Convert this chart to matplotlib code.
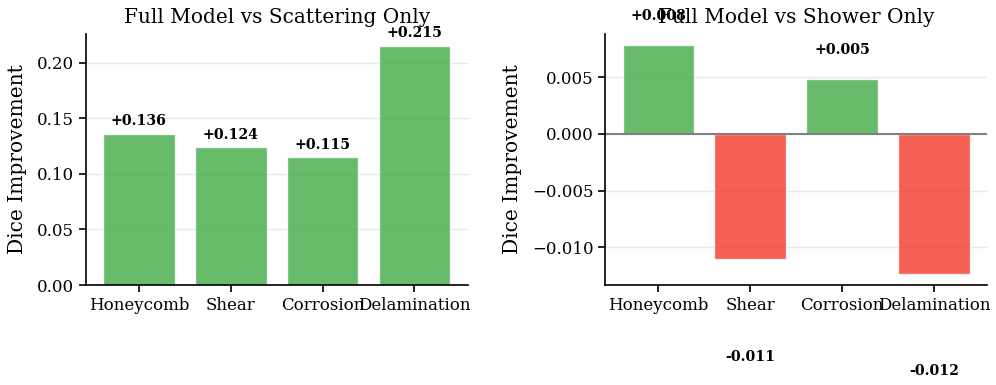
import matplotlib
matplotlib.use("Agg")
import matplotlib.pyplot as plt

categories = ["Honeycomb", "Shear", "Corrosion", "Delamination"]
vs_scattering = [0.136, 0.124, 0.115, 0.215]
vs_shower = [0.0078, -0.0110, 0.0048, -0.0123]
titles = ["Full Model vs Scattering Only", "Full Model vs Shower Only"]
ylabel = "Dice Improvement"

plt.rcParams['font.family'] = ['DejaVu Serif']

fig = plt.figure(figsize=(9.96, 3.85), dpi=100)
ax1 = fig.add_axes([0.086, 0.2597, 0.3835, 0.652])
ax2 = fig.add_axes([0.6077, 0.2597, 0.3835, 0.652])

green = "#4CAF50"
red = "#F44336"

def style(ax):
    for s in ["top", "right"]:
        ax.spines[s].set_visible(False)
    for s in ["left", "bottom"]:
        ax.spines[s].set_linewidth(1.2)
    ax.yaxis.grid(True, color="#dddddd", linewidth=1, alpha=0.7)
    ax.set_axisbelow(True)
    ax.tick_params(axis="both", labelsize=12, length=5, width=1.2)
    ax.set_ylabel(ylabel, fontsize=14.5, labelpad=7)

# left
x = range(len(categories))
ax1.bar(x, vs_scattering, color=green, alpha=0.85, width=0.78, edgecolor="white", linewidth=1)
for i, v in enumerate(vs_scattering):
    ax1.text(i, v + 0.005, f"+{v:.3f}", ha="center", va="bottom", fontsize=10.2, fontweight="bold")
ax1.set_xticks(list(x))
ax1.set_xticklabels(categories)
ax1.set_title(titles[0], fontsize=14.5, pad=8)
style(ax1)

# right
cols = [green if v > 0 else red for v in vs_shower]
ax2.bar(x, vs_shower, color=cols, alpha=0.85, width=0.78, edgecolor="white", linewidth=1)
ax2.axhline(0, color="gray", linewidth=1.5)
for i, v in enumerate(vs_shower):
    if v > 0:
        ax2.text(i, v + 0.002, f"+{v:.3f}", ha="center", va="bottom", fontsize=10.2, fontweight="bold")
    else:
        ax2.text(i, v - 0.008, f"{v:.3f}", ha="center", va="top", fontsize=10.2, fontweight="bold")
ax2.set_xticks(list(x))
ax2.set_xticklabels(categories)
ax2.set_title(titles[1], fontsize=14.5, pad=8)
style(ax2)

fig.savefig("out.png", dpi=100)
